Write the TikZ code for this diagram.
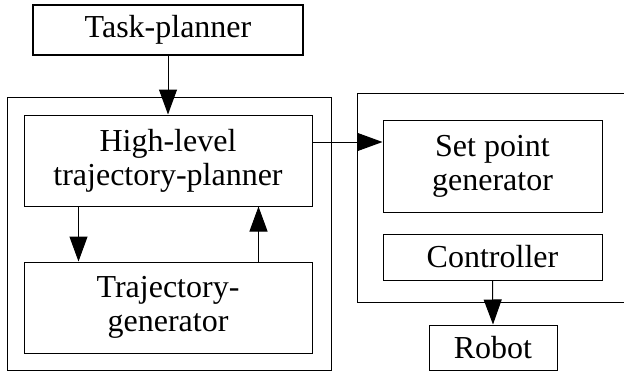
\documentclass[tikz,border=0pt]{standalone}
\usepackage{fontspec}
\setmainfont{Liberation Serif}
\usetikzlibrary{arrows.meta}
\begin{document}
\begin{tikzpicture}[x=1pt,y=-1pt,
  blk/.style={draw,line width=1pt,inner sep=0pt,align=center,font=\fontsize{32}{34}\selectfont},
  frame/.style={draw,line width=1pt},
  arr/.style={line width=1pt,-{Triangle[length=25pt,width=18pt]}}]
\useasboundingbox (0,0) rectangle (624,375);
\draw[frame] (7,97) rectangle (331,370);
\draw[frame] (650,93) -- (357,93) -- (357,302) -- (650,302);
\node[blk,line width=2pt,minimum width=270pt,minimum height=50pt] (task) at (168,30) {Task-planner};
\node[blk,minimum width=288pt,minimum height=91pt] (high) at (168,160.5) {High-level\\trajectory-planner};
\node[blk,minimum width=288pt,minimum height=91pt] (traj) at (168,307.5) {Trajectory-\\generator};
\node[blk,minimum width=219pt,minimum height=92pt] (setp) at (492.5,166) {Set point\\generator};
\node[blk,minimum width=219pt,minimum height=46pt] (ctrl) at (492.5,257) {Controller};
\node[blk,minimum width=128pt,minimum height=45pt] (robot) at (493,347.5) {Robot};
\draw[arr] (task.south) -- (high.north);
\draw[arr] ([xshift=55pt]high.south west) coordinate (d1) -- (d1 |- traj.north);
\draw[arr] ([xshift=-54pt]traj.north east) coordinate (u1) -- (u1 |- high.south);
\draw[arr] ([yshift=18.5pt]high.east) coordinate (h1) -- (h1 -| setp.west);
\draw[arr] (ctrl.south) -- (robot.north);
\end{tikzpicture}
\end{document}
